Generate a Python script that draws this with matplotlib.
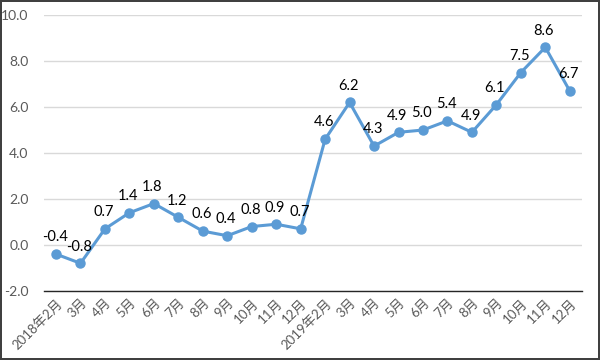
import matplotlib
matplotlib.use('Agg')
import matplotlib.pyplot as plt

plt.rcParams['font.family'] = ['Lato', 'Noto Sans CJK SC', 'DejaVu Sans']

# month labels and values
months = ['2018年2月', '3月', '4月', '5月', '6月', '7月', '8月', '9月', '10月', '11月', '12月',
          '2019年2月', '3月', '4月', '5月', '6月', '7月', '8月', '9月', '10月', '11月', '12月']
values = [-0.4, -0.8, 0.7, 1.4, 1.8, 1.2, 0.6, 0.4, 0.8, 0.9, 0.7,
          4.6, 6.2, 4.3, 4.9, 5.0, 5.4, 4.9, 6.1, 7.5, 8.6, 6.7]
yticks = [-2.0, 0.0, 2.0, 4.0, 6.0, 8.0, 10.0]

line_color = '#5B9BD5'

fig = plt.figure(figsize=(6, 3.6), dpi=100, edgecolor='#404040', linewidth=1.5)
ax = fig.add_axes([0.073, 0.192, 0.897, 0.766])

x = list(range(len(values)))
ax.plot(x, values, color=line_color, linewidth=2.2, marker='o', markersize=6.5, zorder=3)

for xi, v in zip(x, values):
    ax.annotate('%.1f' % v, xy=(xi, v), xytext=(-1, 7), textcoords='offset points',
                ha='center', va='bottom', fontsize=10.5, color='#000000')

ax.set_xlim(-0.5, len(values) - 0.5)
ax.set_ylim(-2.0, 10.0)
ax.set_yticks(yticks)
ax.set_yticklabels(['%.1f' % t for t in yticks])
ax.set_xticks(x)
ax.set_xticklabels(months, rotation=45, ha='right', rotation_mode='anchor')

ax.grid(axis='y', color='#D9D9D9', linewidth=1)
ax.set_axisbelow(True)
for s in ['top', 'right', 'left']:
    ax.spines[s].set_visible(False)
ax.spines['bottom'].set_color('#262626')
ax.spines['bottom'].set_linewidth(1)
ax.spines['bottom'].set_zorder(2)
ax.tick_params(axis='both', length=0, labelsize=9.5, colors='#595959')
ax.tick_params(axis='y', labelsize=10, pad=11)
ax.tick_params(axis='x', pad=4)

fig.savefig('out.png', dpi=100)
